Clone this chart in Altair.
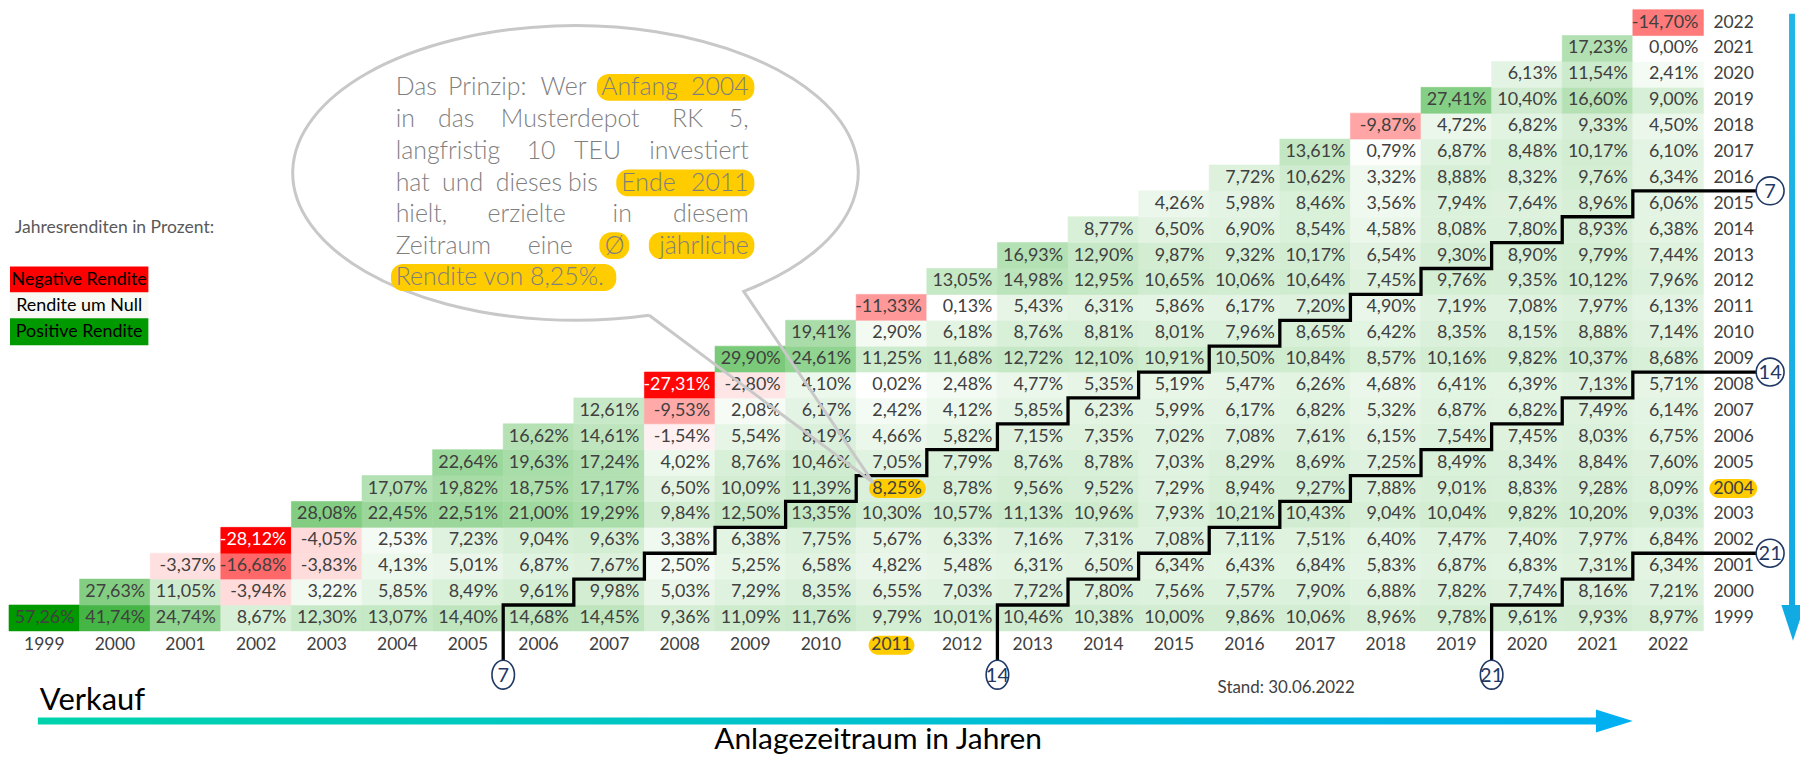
import altair as alt
import pandas as pd

# ---------------- data: annual returns (%) by purchase year (row) and sale year (column)
r1999 = [57.26, 41.74, 24.74, 8.67, 12.30, 13.07, 14.40, 14.68, 14.45, 9.36, 11.09, 11.76, 9.79, 10.01, 10.46, 10.38, 10.00, 9.86, 10.06, 8.96, 9.78, 9.61, 9.93, 8.97]
r2000 = [27.63, 11.05, -3.94, 3.22, 5.85, 8.49, 9.61, 9.98, 5.03, 7.29, 8.35, 6.55, 7.03, 7.72, 7.80, 7.56, 7.57, 7.90, 6.88, 7.82, 7.74, 8.16, 7.21]
r2001 = [-3.37, -16.68, -3.83, 4.13, 5.01, 6.87, 7.67, 2.50, 5.25, 6.58, 4.82, 5.48, 6.31, 6.50, 6.34, 6.43, 6.84, 5.83, 6.87, 6.83, 7.31, 6.34]
r2002 = [-28.12, -4.05, 2.53, 7.23, 9.04, 9.63, 3.38, 6.38, 7.75, 5.67, 6.33, 7.16, 7.31, 7.08, 7.11, 7.51, 6.40, 7.47, 7.40, 7.97, 6.84]
r2003 = [28.08, 22.45, 22.51, 21.00, 19.29, 9.84, 12.50, 13.35, 10.30, 10.57, 11.13, 10.96, 7.93, 10.21, 10.43, 9.04, 10.04, 9.82, 10.20, 9.03]
r2004 = [17.07, 19.82, 18.75, 17.17, 6.50, 10.09, 11.39, 8.25, 8.78, 9.56, 9.52, 7.29, 8.94, 9.27, 7.88, 9.01, 8.83, 9.28, 8.09]
r2005 = [22.64, 19.63, 17.24, 4.02, 8.76, 10.46, 7.05, 7.79, 8.76, 8.78, 7.03, 8.29, 8.69, 7.25, 8.49, 8.34, 8.84, 7.60]
r2006 = [16.62, 14.61, -1.54, 5.54, 8.19, 4.66, 5.82, 7.15, 7.35, 7.02, 7.08, 7.61, 6.15, 7.54, 7.45, 8.03, 6.75]
r2007 = [12.61, -9.53, 2.08, 6.17, 2.42, 4.12, 5.85, 6.23, 5.99, 6.17, 6.82, 5.32, 6.87, 6.82, 7.49, 6.14]
r2008 = [-27.31, -2.80, 4.10, 0.02, 2.48, 4.77, 5.35, 5.19, 5.47, 6.26, 4.68, 6.41, 6.39, 7.13, 5.71]
r2009 = [29.90, 24.61, 11.25, 11.68, 12.72, 12.10, 10.91, 10.50, 10.84, 8.57, 10.16, 9.82, 10.37, 8.68]
r2010 = [19.41, 2.90, 6.18, 8.76, 8.81, 8.01, 7.96, 8.65, 6.42, 8.35, 8.15, 8.88, 7.14]
r2011 = [-11.33, 0.13, 5.43, 6.31, 5.86, 6.17, 7.20, 4.90, 7.19, 7.08, 7.97, 6.13]
r2012 = [13.05, 14.98, 12.95, 10.65, 10.06, 10.64, 7.45, 9.76, 9.35, 10.12, 7.96]
r2013 = [16.93, 12.90, 9.87, 9.32, 10.17, 6.54, 9.30, 8.90, 9.79, 7.44]
r2014 = [8.77, 6.50, 6.90, 8.54, 4.58, 8.08, 7.80, 8.93, 6.38]
r2015 = [4.26, 5.98, 8.46, 3.56, 7.94, 7.64, 8.96, 6.06]
r2016 = [7.72, 10.62, 3.32, 8.88, 8.32, 9.76, 6.34]
r2017 = [13.61, 0.79, 6.87, 8.48, 10.17, 6.10]
r2018 = [-9.87, 4.72, 6.82, 9.33, 4.50]
r2019 = [27.41, 10.40, 16.60, 9.00]
r2020 = [6.13, 11.54, 2.41]
r2021 = [17.23, 0.00]
r2022 = [-14.70]

BUY_YEARS = list(range(1999, 2023))
SELL_YEARS = list(range(1999, 2023))
ROWS = [r1999, r2000, r2001, r2002, r2003, r2004, r2005, r2006, r2007, r2008, r2009, r2010,
        r2011, r2012, r2013, r2014, r2015, r2016, r2017, r2018, r2019, r2020, r2021, r2022]
PERIODS = [7, 14, 21]
LEGEND_LABELS = ["Negative Rendite", "Rendite um Null", "Positive Rendite"]
LEGEND_TITLE = "Jahresrenditen in Prozent:"

# ---------------- layout / scales
W, H = 1800, 749
PXW = 1702 / 24
PXH = 26.0
XD = [1998.5 - 1 / PXW, 1998.5 + (W - 1) / PXW]
YD = [2022.5 - H / PXH, 2022.5]
XS = alt.Scale(domain=XD, nice=False, zero=False)
YS = alt.Scale(domain=YD, nice=False, zero=False)


def ix(p):  # page x pixel -> x data units
    return XD[0] + (p - 8) / PXW


def iy(p):  # page y pixel -> y data units
    return YD[1] - (p - 8) / PXH


def pxp(v):  # x data units -> page pixel
    return 8 + (v - XD[0]) * PXW


def pyp(v):
    return 8 + (YD[1] - v) * PXH


def X(f="x"):
    return alt.X(f"{f}:Q", scale=XS, axis=None)


def Y(f="y"):
    return alt.Y(f"{f}:Q", scale=YS, axis=None)


def texts(items, **kw):
    df = pd.DataFrame([{"x": ix(a), "y": iy(b), "t": t} for a, b, t in items])
    return alt.Chart(df).mark_text(**kw).encode(x=X(), y=Y(), text="t:N")


def rects(items, **kw):
    df = pd.DataFrame([{"x": ix(a), "y": iy(b), "x2": ix(c), "y2": iy(d)} for a, b, c, d in items])
    return alt.Chart(df).mark_rect(**kw).encode(x=X(), x2="x2:Q", y=Y(), y2="y2:Q")


def symbol(cx, cy, shape, size, **kw):
    df = pd.DataFrame([{"x": ix(cx), "y": iy(cy)}])
    return alt.Chart(df).mark_point(shape=shape, size=size, opacity=1, **kw).encode(x=X(), y=Y())


FONT = "Lato"
YEL = "#FFCC00"
NAVY = "#1F3864"

# ---------------- heat map cells
recs = []
for b, vals in zip(BUY_YEARS, ROWS):
    for k, v in enumerate(vals):
        s = b + k
        recs.append(dict(s=s, b=b, v=v, xl=s - 0.5, xr=s + 0.5, yt=b + 0.5, yb=b - 0.5,
                         lab=f"{v:.2f}".replace(".", ",") + "%"))
cells = pd.DataFrame(recs)

CSCALE = alt.Scale(domain=[-28.12, 0, 57.26], range=["#ff0000", "#ffffff", "#009900"], interpolate="rgb")

cell_layer = alt.Chart(cells).mark_rect(strokeWidth=0.6).encode(
    x=X("xl"), x2="xr:Q", y=Y("yt"), y2="yb:Q",
    color=alt.Color("v:Q", scale=CSCALE, legend=None),
    stroke=alt.Stroke("v:Q", scale=CSCALE, legend=None),
)

# highlight pill behind the 8,25% cell value
pill_cell = rects([(pxp(2011.5) - 58, pyp(2004) - 9.5, pxp(2011.5) - 1, pyp(2004) + 9.5)],
                  color=YEL, cornerRadius=9.5)

dark_text = alt.Chart(cells[cells.v >= -20]).mark_text(
    align="right", baseline="middle", dx=-5, font=FONT, fontSize=18, color="#404040"
).encode(x=X("xr"), y=Y("b"), text="lab:N")
white_text = alt.Chart(cells[cells.v < -20]).mark_text(
    align="right", baseline="middle", dx=-5, font=FONT, fontSize=18, color="#ffffff"
).encode(x=X("xr"), y=Y("b"), text="lab:N")

# ---------------- axis labels (sale years below, purchase years right)
pill_years = rects([(pxp(2011) - 23, 637, pxp(2011) + 23, 656),
                    (1717, pyp(2004) - 9.5, 1765, pyp(2004) + 9.5)],
                   color=YEL, cornerRadius=9.5)

xlab_df = pd.DataFrame({"x": SELL_YEARS, "y": [iy(646)] * len(SELL_YEARS), "t": [str(s) for s in SELL_YEARS]})
xlab = alt.Chart(xlab_df).mark_text(align="center", baseline="middle", font=FONT, fontSize=17.5,
                                    color="#404040").encode(x=X(), y=Y(), text="t:N")
ylab_df = pd.DataFrame({"x": [ix(1721)] * len(BUY_YEARS), "y": BUY_YEARS, "t": [str(b) for b in BUY_YEARS]})
ylab = alt.Chart(ylab_df).mark_text(align="left", baseline="middle", font=FONT, fontSize=17.5,
                                    color="#404040").encode(x=X(), y=Y(), text="t:N")

# ---------------- staircase lines for 7/14/21 year holding periods
RC_X = 1778  # right circle centre (page px)
BC_Y = 676   # bottom circle centre (page px)
BC_RY = 14.5
stair = []
for p in PERIODS:
    pts = [(1999 + p - 0.5, iy(BC_Y - BC_RY)), (1999 + p - 0.5, 1998.5)]
    for b in range(1999, 2023 - p):
        xb = b + p - 0.5
        pts.append((xb, b + 0.5))
        pts.append((xb + 1, b + 0.5))
    pts[-1] = (ix(RC_X - 14), pts[-1][1])
    for o, (x, y) in enumerate(pts):
        stair.append(dict(p=p, o=o, x=x, y=y))
stair_df = pd.DataFrame(stair)
stair_layer = alt.Chart(stair_df).mark_line(color="black", strokeWidth=3.3, strokeJoin="miter",
                                            strokeCap="square").encode(
    x=X(), y=Y(), detail="p:N", order="o:Q")

bot_df = pd.DataFrame([dict(x=1999 + p - 0.5, y=iy(BC_Y), t=str(p)) for p in PERIODS])
right_df = pd.DataFrame([dict(x=ix(RC_X), y=(2022 - p) + 0.5, t=str(p)) for p in PERIODS])
OVAL = "M 0 -1 A 0.78 1 0 1 0 0 1 A 0.78 1 0 1 0 0 -1 Z"
circ_b = alt.Chart(bot_df).mark_point(shape=OVAL, size=29 ** 2, filled=True, fill="white",
                                      stroke=NAVY, strokeWidth=1.6, opacity=1).encode(x=X(), y=Y())
circ_r = alt.Chart(right_df).mark_point(shape="circle", size=28 ** 2, filled=True, fill="white",
                                        stroke=NAVY, strokeWidth=1.6, opacity=1).encode(x=X(), y=Y())
circ_tb = alt.Chart(bot_df).mark_text(align="center", baseline="middle", dy=1, font=FONT, fontSize=20,
                                      color=NAVY).encode(x=X(), y=Y(), text="t:N")
circ_tr = alt.Chart(right_df).mark_text(align="center", baseline="middle", dy=1, font=FONT, fontSize=20,
                                        color=NAVY).encode(x=X(), y=Y(), text="t:N")

# ---------------- legend (left)
leg_title = texts([(15, 227, LEGEND_TITLE)], align="left", baseline="middle", font=FONT,
                  fontSize=17.6, color="#595959")
leg_red = rects([(10, 266, 149, 292)], color="#ff0000")
leg_white = rects([(10, 292, 149, 318)], color="#f7f9f2")
leg_green = rects([(10, 318, 149, 345)], color="#009900")
leg_txt = texts([(79.5, 279.5, LEGEND_LABELS[0]), (79.5, 305.5, LEGEND_LABELS[1]),
                 (79.5, 331.5, LEGEND_LABELS[2])],
                align="center", baseline="middle", font=FONT, fontSize=18, color="#000000")

# ---------------- speech bubble
BUB_PATH = "M 0.2606 0.5031 L 1.0528 1.0951 L 0.5951 0.4188 A 1 0.5211 0 1 0 0.2606 0.5031"
bubble = symbol(578, 172, BUB_PATH, 568 ** 2, stroke="#c8c8c8", strokeWidth=3)

bub_pills = rects([(599.5, 72.5, 757.7, 99.5), (619, 168.5, 757.7, 195.5), (602, 231.5, 632, 258.5),
                   (651.7, 231.5, 757.7, 258.5), (392.7, 263.5, 619, 290.5)],
                  color=YEL, cornerRadius=12)
LX, RX = 397.4, 752
bub_left = texts([
    (LX, 86, "Das"), (450, 86, "Prinzip:"), (543, 86, "Wer"), (604, 86, "Anfang"),
    (LX, 118, "in"), (440, 118, "das"), (503, 118, "Musterdepot"), (675, 118, "RK"),
    (LX, 150, "langfristig"), (529, 150, "10"), (576.6, 150, "TEU"),
    (LX, 182, "hat"), (444, 182, "und"), (498, 182, "dieses"), (570.6, 182, "bis"), (624, 182, "Ende"),
    (LX, 213.5, "hielt,"), (489.6, 213.5, "erzielte"), (615.3, 213.5, "in"),
    (LX, 245, "Zeitraum"), (530, 245, "eine"), (607.4, 245, "Ø"),
    (LX, 277, "Rendite von 8,25%."),
], align="left", baseline="middle", font=FONT, fontSize=25, fontWeight=300, color="#7f7f7f")
bub_right = texts([
    (RX, 86, "2004"), (RX, 118, "5,"), (RX, 150, "investiert"), (RX, 182, "2011"),
    (RX, 213.5, "diesem"), (RX, 245, "jährliche"),
], align="right", baseline="middle", font=FONT, fontSize=25, fontWeight=300, color="#7f7f7f")

# ---------------- bottom annotations and arrows
stand = texts([(1223, 689, "Stand: 30.06.2022")], align="left", baseline="middle", font=FONT,
              fontSize=17, color="#404040")
verkauf = texts([(40, 702, "Verkauf")], align="left", baseline="middle", font=FONT, fontSize=31,
                color="#000000")
anlage = texts([(882, 751, "Anlagezeitraum in Jahren")], align="center", baseline="alphabetic",
               font=FONT, fontSize=30, color="#000000")

grad_h = alt.LinearGradient(gradient="linear", x1=0, x2=1, y1=0, y2=0,
                            stops=[alt.GradientStop(color="#00D3AC", offset=0),
                                   alt.GradientStop(color="#00B1EE", offset=1)])
shaft_h = rects([(38, 719, 1605, 726)], fill=grad_h)
head_h = symbol(1621.5, 722.5, "M -1 -0.62 L 1 0 L -1 0.62 Z", 37 ** 2, filled=True, color="#00B0F0")

grad_v = alt.LinearGradient(gradient="linear", x1=0, x2=0, y1=0, y2=1,
                            stops=[alt.GradientStop(color="#22B6E8", offset=0),
                                   alt.GradientStop(color="#10A9E2", offset=1)])
shaft_v = rects([(1797, 12, 1803, 608)], fill=grad_v)
head_v = symbol(1801, 624, "M -0.65 -1 L 0.65 -1 L 0 1 Z", 36 ** 2, filled=True, color="#12AAE2")

chart = alt.layer(
    cell_layer, pill_cell, dark_text, white_text,
    pill_years, xlab, ylab,
    stair_layer, circ_b, circ_r, circ_tb, circ_tr,
    leg_title, leg_red, leg_white, leg_green, leg_txt,
    bubble, bub_pills, bub_left, bub_right,
    stand, verkauf, anlage, shaft_h, head_h, shaft_v, head_v,
).resolve_scale(color="independent", stroke="independent").properties(
    width=W, height=H, padding=0, autosize=alt.AutoSizeParams(type="none"), background="white"
).configure_view(strokeWidth=0)

chart.save("out.html", embed_options={"renderer": "svg", "actions": False})
